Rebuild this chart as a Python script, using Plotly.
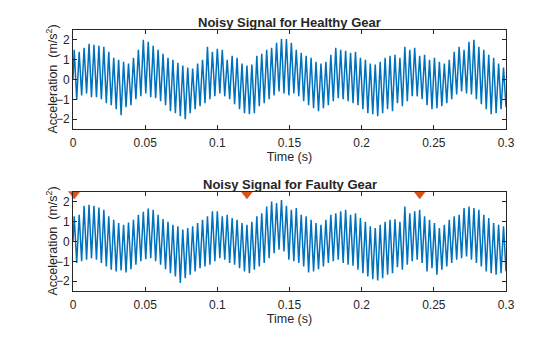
import numpy as np
import plotly.graph_objects as go

# --- data (per gear-mesh cycle: peak and trough) ---
mesh_freq = 292.5  # Hz, one peak + one trough per cycle

healthy_peaks = [1.5, 1.4, 1.6, 1.8, 1.75, 1.7, 1.65, 1.4, 1.1, 1.0, 0.9, 0.8, 1.1, 1.5, 2.0, 1.9,
                 1.7, 1.5, 1.3, 1.1, 1.0, 0.85, 0.7, 0.6, 0.55, 0.8, 1.0, 1.65, 1.4, 1.55, 1.5, 1.0,
                 1.2, 1.1, 0.8, 0.7, 0.75, 1.2, 1.3, 1.5, 1.6, 1.85, 2.05, 2.05, 1.85, 1.5, 1.35, 1.2,
                 1.1, 0.9, 0.8, 0.9, 1.25, 1.6, 1.5, 1.45, 1.35, 1.4, 1.1, 1.0, 0.8, 0.75, 0.9, 1.1,
                 1.2, 1.25, 1.1, 1.65, 1.5, 1.6, 1.2, 1.25, 1.0, 1.1, 0.9, 0.8, 1.0, 1.4, 1.65, 1.5,
                 1.9, 2.0, 1.65, 1.5, 1.25, 1.1, 0.8, 0.6]
healthy_troughs = [-1.03, -0.8, -0.7, -0.9, -0.9, -1.0, -1.2, -1.3, -1.5, -1.8, -1.4, -1.3, -1.0, -0.85,
                   -0.7, -0.9, -0.95, -1.1, -1.3, -1.6, -1.7, -1.85, -2.0, -1.7, -1.5, -1.35, -1.2, -1.0,
                   -0.85, -0.7, -0.85, -1.0, -1.25, -1.5, -1.7, -1.75, -1.7, -1.35, -1.2, -1.0, -0.8, -0.6,
                   -0.7, -0.8, -0.7, -0.85, -1.1, -1.3, -1.45, -1.6, -1.45, -1.3, -1.1, -0.95, -1.0, -1.1,
                   -1.2, -1.3, -1.5, -1.7, -1.75, -1.85, -1.7, -1.5, -1.6, -1.2, -1.35, -1.1, -0.85, -0.85,
                   -1.0, -1.3, -1.5, -1.45, -1.35, -1.2, -1.0, -0.75, -0.6, -0.7, -0.75, -1.0, -1.25, -1.5,
                   -1.75, -1.7, -1.5, -1.4]

faulty_peaks = [1.27, 1.35, 1.8, 1.85, 1.8, 1.72, 1.6, 1.27, 1.1, 0.93, 0.85, 0.96, 1.1, 1.35, 1.5, 1.67,
                1.6, 1.35, 1.13, 1.0, 0.85, 0.77, 0.6, 0.68, 0.77, 0.93, 1.1, 1.27, 1.52, 1.52, 1.27, 1.35,
                1.18, 1.1, 0.93, 0.85, 1.0, 1.27, 1.43, 1.77, 2.02, 1.94, 2.1, 1.8, 1.6, 1.69, 1.35, 1.27,
                1.1, 0.93, 0.85, 1.1, 1.35, 1.43, 1.52, 1.6, 1.35, 1.43, 1.18, 1.0, 0.77, 0.68, 0.85, 1.0,
                1.1, 1.12, 1.0, 1.77, 1.43, 1.52, 1.6, 1.27, 1.1, 0.93, 0.68, 0.85, 1.1, 1.27, 1.35, 1.69,
                1.77, 1.69, 1.6, 1.35, 1.18, 0.93, 0.85, 0.77]
faulty_troughs = [-1.09, -1.0, -0.92, -0.84, -0.92, -1.09, -1.26, -1.43, -1.51, -1.46, -1.56, -1.4, -1.17,
                  -1.0, -0.89, -0.84, -1.0, -1.17, -1.4, -1.6, -1.77, -2.1, -1.85, -1.68, -1.51, -1.35,
                  -1.26, -1.17, -1.0, -0.84, -0.92, -1.09, -1.17, -1.35, -1.51, -1.6, -1.43, -1.26, -1.09,
                  -0.84, -0.59, -0.42, -0.5, -0.92, -1.0, -1.09, -1.26, -1.56, -1.51, -1.4, -1.26, -1.09,
                  -1.0, -0.92, -1.09, -1.17, -1.22, -1.43, -1.6, -1.77, -1.9, -1.97, -1.85, -1.68, -1.6,
                  -1.3, -1.43, -1.17, -1.0, -0.92, -1.09, -1.51, -1.35, -1.68, -1.43, -1.26, -1.09, -0.92,
                  -0.84, -0.76, -0.92, -1.09, -1.26, -1.51, -1.6, -1.68, -1.6, -1.5]

impact_times = [0.00085, 0.1205, 0.2402]
marker_height = 2.4

x_ticks = [0, 0.05, 0.1, 0.15, 0.2, 0.25, 0.3]
y_ticks = [-2, -1, 0, 1, 2]
titles = ["Noisy Signal for Healthy Gear", "Noisy Signal for Faulty Gear"]
x_label = "Time (s)"
y_label = "Acceleration  (m/s<sup>2</sup>)"


def interleave(peaks, troughs):
    k = np.arange(len(peaks))
    t = np.empty(2 * len(k) + 1)
    v = np.empty(2 * len(k) + 1)
    t[0], v[0] = 0.0, 0.0
    t[1::2] = (k + 0.25) / mesh_freq
    t[2::2] = (k + 0.75) / mesh_freq
    v[1::2] = peaks
    v[2::2] = troughs
    return t, v


BLUE = "#0072BD"
ORANGE = "#D95319"
TXT = "#262626"
FONT = "Liberation Sans, Arial, sans-serif"

fig = go.Figure()
t1, v1 = interleave(healthy_peaks, healthy_troughs)
t2, v2 = interleave(faulty_peaks, faulty_troughs)
fig.add_trace(go.Scatter(x=t1, y=v1, mode="lines", line=dict(color=BLUE, width=1.5),
                         xaxis="x", yaxis="y", showlegend=False))
fig.add_trace(go.Scatter(x=t2, y=v2, mode="lines", line=dict(color=BLUE, width=1.5),
                         xaxis="x2", yaxis="y2", showlegend=False))
fig.add_trace(go.Scatter(x=impact_times, y=[marker_height] * len(impact_times), mode="markers",
                         marker=dict(symbol="triangle-down", size=10, color=ORANGE,
                                     line=dict(color=ORANGE, width=0.5)),
                         xaxis="x2", yaxis="y2", showlegend=False, cliponaxis=False))

W, H = 560, 337
xdom = [73 / W, 506 / W]
ydom1 = [1 - 129 / H, 1 - 30 / H]
ydom2 = [1 - 291 / H, 1 - 192 / H]

common_x = dict(range=[0, 0.3], tickvals=x_ticks, ticktext=[f"{v:g}" for v in x_ticks],
                showline=True, linecolor=TXT, linewidth=1, mirror="ticks", ticks="inside",
                ticklen=4, tickcolor=TXT, showgrid=False, zeroline=False, automargin=False,
                ticklabelstandoff=3,
                tickfont=dict(size=12, color=TXT, family=FONT), domain=xdom,
                title=dict(text=x_label, font=dict(size=12.5, color=TXT, family=FONT), standoff=2))
common_y = dict(range=[-2.5, 2.5], tickvals=y_ticks, showline=True, linecolor=TXT, linewidth=1,
                mirror="ticks", ticks="inside", ticklen=4, tickcolor=TXT, showgrid=False,
                zeroline=False, automargin=False, tickfont=dict(size=12, color=TXT, family=FONT))

ann = []
for dom, title in ((ydom1, titles[0]), (ydom2, titles[1])):
    ann.append(dict(text=f"<b>{title}</b>", x=(xdom[0] + xdom[1]) / 2, y=dom[1], xref="paper",
                    yref="paper", xanchor="center", yanchor="bottom", yshift=-2, showarrow=False,
                    font=dict(size=13, color=TXT, family=FONT)))
    ann.append(dict(text=y_label, textangle=-90, x=51 / W, y=(dom[0] + dom[1]) / 2,
                    xref="paper", yref="paper", xanchor="center", yanchor="middle",
                    showarrow=False, font=dict(size=12.5, color=TXT, family=FONT)))

fig.update_layout(
    width=W, height=H, margin=dict(l=0, r=0, t=0, b=0),
    paper_bgcolor="white", plot_bgcolor="white",
    xaxis=dict(common_x, anchor="y"),
    yaxis=dict(common_y, domain=ydom1, anchor="x"),
    xaxis2=dict(common_x, anchor="y2"),
    yaxis2=dict(common_y, domain=ydom2, anchor="x2"),
    annotations=ann,
)

fig.write_html("out.html")
